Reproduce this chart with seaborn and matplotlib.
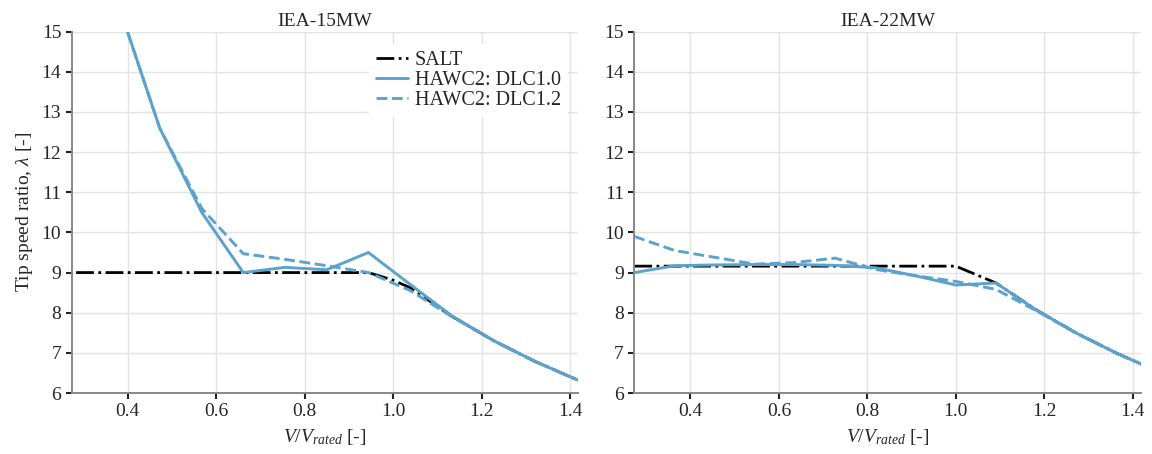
import numpy as np
import pandas as pd
import matplotlib
matplotlib.use("Agg")
import matplotlib.pyplot as plt
import seaborn as sns

# ---------------- data ----------------
# IEA-15MW (x = V / V_rated)
x15_salt = [0.283, 0.378, 0.472, 0.567, 0.661, 0.755, 0.850, 0.944, 1.000, 1.039, 1.133, 1.228, 1.322, 1.416, 1.511]
y15_salt = [9.0, 9.0, 9.0, 9.0, 9.0, 9.0, 9.0, 9.0, 8.81, 8.62, 7.91, 7.30, 6.78, 6.33, 5.93]
x15_h2 = [0.378, 0.472, 0.567, 0.661, 0.755, 0.850, 0.944, 1.039, 1.133, 1.228, 1.322, 1.416, 1.511]
y15_dlc10 = [15.7, 12.6, 10.5, 9.0, 9.13, 9.07, 9.50, 8.70, 7.92, 7.30, 6.78, 6.33, 5.93]
y15_dlc12 = [15.7, 12.6, 10.6, 9.47, 9.33, 9.17, 9.0, 8.55, 7.90, 7.30, 6.78, 6.33, 5.93]

# IEA-22MW
x22 = [0.273, 0.364, 0.455, 0.545, 0.636, 0.727, 0.818, 0.909, 1.000, 1.091, 1.182, 1.273, 1.364, 1.455]
y22_salt = [9.16, 9.16, 9.16, 9.16, 9.16, 9.16, 9.16, 9.16, 9.16, 8.74, 8.07, 7.49, 6.99, 6.55]
y22_dlc10 = [9.0, 9.17, 9.19, 9.20, 9.20, 9.18, 9.12, 8.92, 8.69, 8.74, 8.07, 7.49, 6.99, 6.55]
y22_dlc12 = [9.9, 9.55, 9.38, 9.21, 9.25, 9.36, 9.08, 8.92, 8.78, 8.58, 8.05, 7.49, 6.99, 6.55]

titles = ["IEA-15MW", "IEA-22MW"]
xticks = [0.4, 0.6, 0.8, 1.0, 1.2, 1.4]
yticks = list(range(6, 16))

# ---------------- style ----------------
sns.set_theme(style="whitegrid")
plt.rcParams["font.family"] = ["Liberation Serif", "DejaVu Serif"]
plt.rcParams["mathtext.fontset"] = "custom"
plt.rcParams["mathtext.rm"] = "Liberation Serif"
plt.rcParams["mathtext.it"] = "Liberation Serif:italic"
plt.rcParams["mathtext.bf"] = "Liberation Serif:bold"

blue = "#5ba3cf"
fs = 14
lfs = 14.5

fig = plt.figure(figsize=(11.52, 4.54), dpi=100)
ax1 = fig.add_axes([71.7 / 1152, 1 - 393 / 454, 506.3 / 1152, (393 - 31.7) / 454])
ax2 = fig.add_axes([634.3 / 1152, 1 - 393 / 454, 506.3 / 1152, (393 - 31.7) / 454])

sets = [
    (ax1, x15_salt, y15_salt, x15_h2, y15_dlc10, x15_h2, y15_dlc12),
    (ax2, x22, y22_salt, x22, y22_dlc10, x22, y22_dlc12),
]

for i, (ax, xs, ys, xa, ya, xb, yb) in enumerate(sets):
    sns.lineplot(x=xs, y=ys, ax=ax, color="black", linestyle="-.", lw=2,
                 sort=False, label="SALT", estimator=None)
    sns.lineplot(x=xa, y=ya, ax=ax, color=blue, linestyle="-", lw=2.1,
                 sort=False, label="HAWC2: DLC1.0", estimator=None)
    sns.lineplot(x=xb, y=yb, ax=ax, color=blue, linestyle="--", lw=2.1,
                 sort=False, label="HAWC2: DLC1.2", estimator=None)
    ax.set_xlim(0.273, 1.418)
    ax.set_ylim(6, 15)
    ax.set_xticks(xticks)
    ax.set_xticklabels([f"{t:.1f}" for t in xticks], fontsize=fs)
    ax.set_yticks(yticks)
    ax.set_yticklabels([str(t) for t in yticks], fontsize=fs)
    ax.set_title(titles[i], fontsize=fs, pad=4)
    ax.set_xlabel(r"$V/V_{rated}$ [-]", fontsize=fs, labelpad=5)
    ax.grid(True, color="#e3e3e3", lw=1)
    for s in ["top", "right"]:
        ax.spines[s].set_visible(False)
    for s in ["left", "bottom"]:
        ax.spines[s].set_color("#888888")
        ax.spines[s].set_linewidth(1.4)
    ax.tick_params(axis="both", which="major", direction="out", length=4.5,
                   width=1.5, color="#222222", pad=3, left=True, bottom=True)
    if i == 0:
        ax.set_ylabel(r"Tip speed ratio, $\lambda$ [-]", fontsize=fs, labelpad=5)
        leg = ax.legend(loc="upper right", bbox_to_anchor=(1.0, 0.995), fontsize=lfs,
                        frameon=True, facecolor="white", edgecolor="none",
                        framealpha=1, handlelength=1.6, handletextpad=0.33,
                        labelspacing=0.05, borderpad=0.35, fancybox=False)
    else:
        ax.set_ylabel("")
        if ax.get_legend() is not None:
            ax.get_legend().remove()

fig.savefig("out.png", dpi=100)
